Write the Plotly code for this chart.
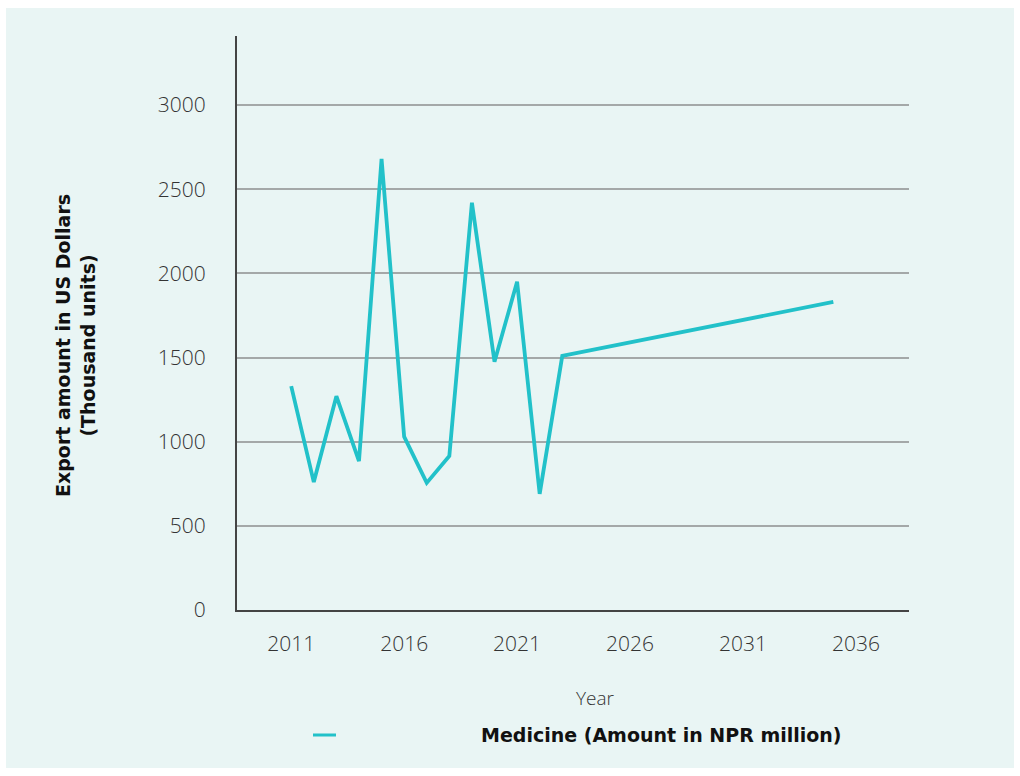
import plotly.graph_objects as go

years = [2011, 2012, 2013, 2014, 2015, 2016, 2017, 2018, 2019, 2020, 2021, 2022, 2023, 2035]
medicine = [1330, 760, 1270, 885, 2680, 1030, 755, 915, 2420, 1475, 1950, 690, 1510, 1830]
x_ticks = [2011, 2016, 2021, 2026, 2031, 2036]
y_ticks = [0, 500, 1000, 1500, 2000, 2500, 3000]

W, H = 1020, 776
L, R, T, B = 237, 111, 36, 166
pw, ph = W - L - R, H - T - B


def px(x):
    return (x - L) / pw


def py(y):
    return (H - B - y) / ph


line_color = "#22C1C9"
panel = "#E9F5F4"
font = "Open Sans, sans-serif"
bold_font = "DejaVu Sans, sans-serif"

fig = go.Figure()
fig.add_trace(go.Scatter(
    x=years, y=medicine, mode="lines", name="Medicine (Amount in NPR million)",
    line=dict(color=line_color, width=3.8), showlegend=False,
))

tick_font = dict(family=font, size=21, color="#333333", weight=300)

fig.update_layout(
    width=W, height=H,
    margin=dict(l=L, r=R, t=T, b=B, pad=0),
    paper_bgcolor="white",
    plot_bgcolor="rgba(0,0,0,0)",
    font=dict(family=font, color="#333333", size=15),
    xaxis=dict(
        range=[2008.6, 2038.35], tickvals=x_ticks, ticktext=[str(v) for v in x_ticks],
        showgrid=False, zeroline=False, showline=True, linecolor="#444444", linewidth=2,
        ticks="", ticklabelstandoff=14, tickfont=tick_font,
    ),
    yaxis=dict(
        range=[0, 3410], tickvals=y_ticks,
        showgrid=True, gridcolor="#A4A8A8", gridwidth=1.5, zeroline=False,
        showline=True, linecolor="#444444", linewidth=2,
        ticks="", ticklabelstandoff=25, tickfont=tick_font,
    ),
    shapes=[
        dict(type="rect", xref="paper", yref="paper", layer="below",
             x0=px(6), x1=px(1014), y0=py(768), y1=py(8),
             fillcolor=panel, line=dict(width=0)),
        dict(type="line", xref="paper", yref="paper",
             x0=px(313), x1=px(336), y0=py(735), y1=py(735),
             line=dict(color=line_color, width=3)),
    ],
    annotations=[
        dict(text="Export amount in US Dollars<br>(Thousand units)", xref="paper", yref="paper",
             x=px(75), y=py(346), xanchor="center", yanchor="middle", textangle=-90,
             showarrow=False, align="center",
             font=dict(family=bold_font, size=19, color="#111111", weight="bold")),
        dict(text="Year", xref="paper", yref="paper", x=px(595), y=py(698),
             xanchor="center", yanchor="middle", showarrow=False,
             font=dict(family=font, size=19, color="#333333", weight=300)),
        dict(text="Medicine (Amount in NPR million)", xref="paper", yref="paper",
             x=px(479), y=py(735), xanchor="left", yanchor="middle", showarrow=False,
             font=dict(family=bold_font, size=19, color="#111111", weight="bold")),
    ],
)

fig.write_html("out.html")
